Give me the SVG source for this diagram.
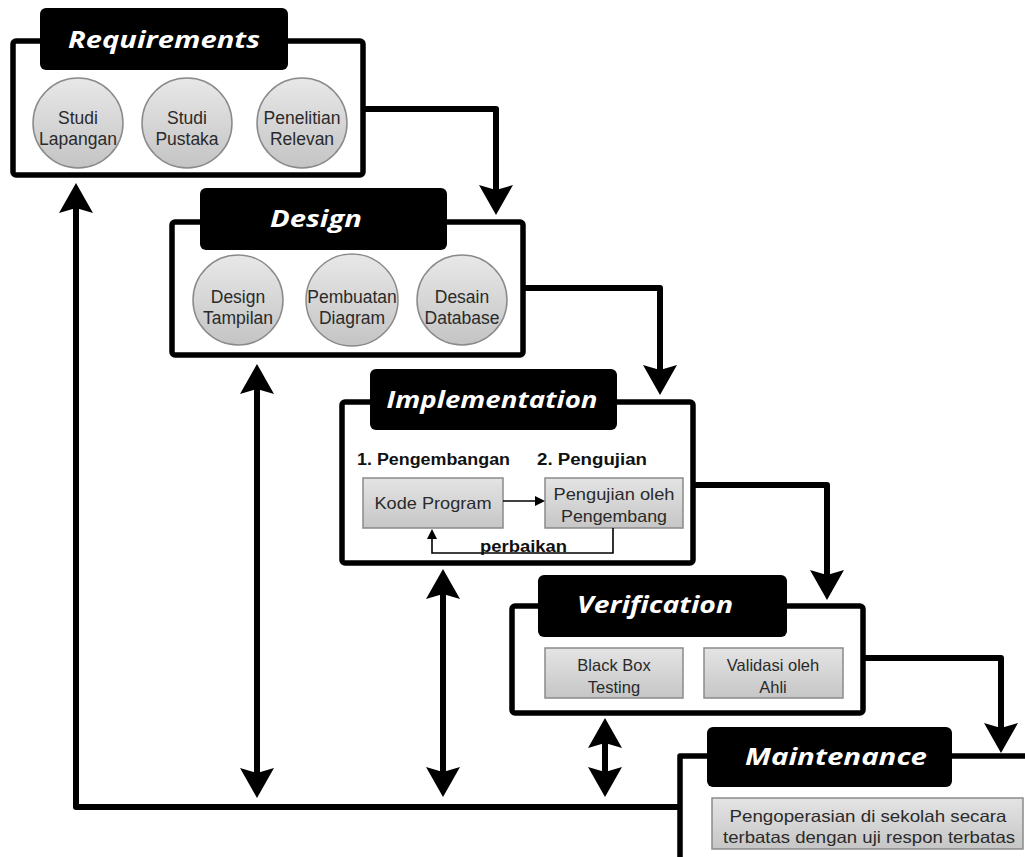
<svg xmlns="http://www.w3.org/2000/svg" width="1025" height="857" viewBox="0 0 1025 857">
<defs>
<linearGradient id="gc" x1="0" y1="0" x2="0" y2="1"><stop offset="0" stop-color="#e8e8e8"/><stop offset="1" stop-color="#c4c4c4"/></linearGradient>
<linearGradient id="gr" x1="0" y1="0" x2="0" y2="1"><stop offset="0" stop-color="#e4e4e4"/><stop offset="1" stop-color="#c6c6c6"/></linearGradient>
<marker id="ah" viewBox="0 -17 30 34" refX="8" refY="0" markerWidth="30" markerHeight="34" markerUnits="userSpaceOnUse" orient="auto-start-reverse"><path d="M0,-17 L30,0 L0,17 L5,0 Z" fill="#000"/></marker>
<marker id="sh" viewBox="0 -5 10 10" refX="2" refY="0" markerWidth="10" markerHeight="10" markerUnits="userSpaceOnUse" orient="auto-start-reverse"><path d="M0,-5 L10,0 L0,5 Z" fill="#000"/></marker>
</defs>
<style>
.frame{fill:#fff;stroke:#000;stroke-width:5.5;stroke-linejoin:round}
.title{fill:#000}
.tt{font-family:"Open Sans","DejaVu Sans",sans-serif;font-weight:bold;font-style:italic;font-size:24px;fill:#fff;text-anchor:middle}
.circ{fill:url(#gc);stroke:#8a8a8a;stroke-width:1.5}
.gbox{fill:url(#gr);stroke:#8a8a8a;stroke-width:1.5}
.ct{font-family:"Liberation Sans",Arial,sans-serif;font-size:17.5px;fill:#2a2a2a;text-anchor:middle}
.bt{font-family:"Liberation Sans",Arial,sans-serif;font-size:16.5px;fill:#2a2a2a;text-anchor:middle}
.lb{font-family:"Liberation Sans",Arial,sans-serif;font-weight:bold;font-size:16px;fill:#111}
.conn{fill:none;stroke:#000;stroke-width:6;stroke-linejoin:round}
.thin{fill:none;stroke:#000;stroke-width:1.6}
</style>

<g id="requirements">
<rect class="frame" x="13" y="41" width="350" height="134" rx="3"/>
<rect class="title" x="40" y="8" width="248" height="62" rx="6"/>
<text class="tt" x="164" y="48" textLength="192" lengthAdjust="spacingAndGlyphs">Requirements</text>
<circle class="circ" cx="78" cy="123" r="45"/>
<text class="ct" x="78" y="124">Studi</text><text class="ct" x="78" y="145">Lapangan</text>
<circle class="circ" cx="187" cy="123" r="45"/>
<text class="ct" x="187" y="124">Studi</text><text class="ct" x="187" y="145">Pustaka</text>
<circle class="circ" cx="302" cy="123" r="45"/>
<text class="ct" x="302" y="124">Penelitian</text><text class="ct" x="302" y="145">Relevan</text>
</g>

<g id="design">
<rect class="frame" x="172" y="222" width="351" height="133" rx="3"/>
<rect class="title" x="200" y="188" width="247" height="62" rx="6"/>
<text class="tt" x="316" y="227" textLength="92" lengthAdjust="spacingAndGlyphs">Design</text>
<circle class="circ" cx="238" cy="300" r="45"/>
<text class="ct" x="238" y="303">Design</text><text class="ct" x="238" y="324">Tampilan</text>
<circle class="circ" cx="352" cy="300" r="46"/>
<text class="ct" x="352" y="303">Pembuatan</text><text class="ct" x="352" y="324">Diagram</text>
<circle class="circ" cx="462" cy="300" r="45"/>
<text class="ct" x="462" y="303">Desain</text><text class="ct" x="462" y="324">Database</text>
</g>

<g id="implementation">
<rect class="frame" x="342" y="402" width="351" height="161" rx="3"/>
<rect class="title" x="370" y="369" width="247" height="61" rx="6"/>
<text class="tt" x="492" y="408" textLength="211" lengthAdjust="spacingAndGlyphs">Implementation</text>
<text class="lb" x="357" y="465" textLength="153" lengthAdjust="spacingAndGlyphs">1. Pengembangan</text>
<text class="lb" x="537" y="465" textLength="110" lengthAdjust="spacingAndGlyphs">2. Pengujian</text>
<rect class="gbox" x="363" y="478" width="140" height="50"/>
<text class="bt" x="433" y="509" textLength="117" lengthAdjust="spacingAndGlyphs">Kode Program</text>
<rect class="gbox" x="545" y="478" width="138" height="50"/>
<text class="bt" x="614" y="500" textLength="121" lengthAdjust="spacingAndGlyphs">Pengujian oleh</text>
<text class="bt" x="614" y="522" textLength="106" lengthAdjust="spacingAndGlyphs">Pengembang</text>
<path class="thin" d="M503,501 H537" marker-end="url(#sh)"/>
<path class="thin" d="M613,528 V553 H432 V537" marker-end="url(#sh)"/>
<text class="lb" x="480" y="552" textLength="87" lengthAdjust="spacingAndGlyphs">perbaikan</text>
</g>

<g id="verification">
<rect class="frame" x="512" y="606" width="351" height="107" rx="3"/>
<rect class="title" x="538" y="575" width="249" height="62" rx="6"/>
<text class="tt" x="655" y="613" textLength="156" lengthAdjust="spacingAndGlyphs">Verification</text>
<rect class="gbox" x="545" y="648" width="138" height="50"/>
<text class="bt" x="614" y="671">Black Box</text><text class="bt" x="614" y="693">Testing</text>
<rect class="gbox" x="704" y="648" width="139" height="50"/>
<text class="bt" x="773" y="671">Validasi oleh</text><text class="bt" x="773" y="693">Ahli</text>
</g>

<g id="maintenance">
<path class="frame" d="M680,860 V756 H1030" fill="none"/>
<rect class="title" x="707" y="727" width="245" height="60" rx="6"/>
<text class="tt" x="836" y="765" textLength="182" lengthAdjust="spacingAndGlyphs">Maintenance</text>
<rect class="gbox" x="712" y="798" width="311" height="51"/>
<text class="bt" x="868" y="822" textLength="277" lengthAdjust="spacingAndGlyphs">Pengoperasian di sekolah secara</text>
<text class="bt" x="869" y="843" textLength="292" lengthAdjust="spacingAndGlyphs">terbatas dengan uji respon terbatas</text>
</g>

<g id="connectors">
<path class="conn" d="M363,109 H496 V193" marker-end="url(#ah)"/>
<path class="conn" d="M523,288 H660 V373" marker-end="url(#ah)"/>
<path class="conn" d="M693,485 H827 V578" marker-end="url(#ah)"/>
<path class="conn" d="M863,658 H1001 V731" marker-end="url(#ah)"/>
<path class="conn" d="M680,807 H76 V205" marker-end="url(#ah)"/>
<path class="conn" d="M257,386 V776" marker-start="url(#ah)" marker-end="url(#ah)"/>
<path class="conn" d="M443,591 V775" marker-start="url(#ah)" marker-end="url(#ah)"/>
<path class="conn" d="M605,740 V775" marker-start="url(#ah)" marker-end="url(#ah)"/>
</g>
</svg>
